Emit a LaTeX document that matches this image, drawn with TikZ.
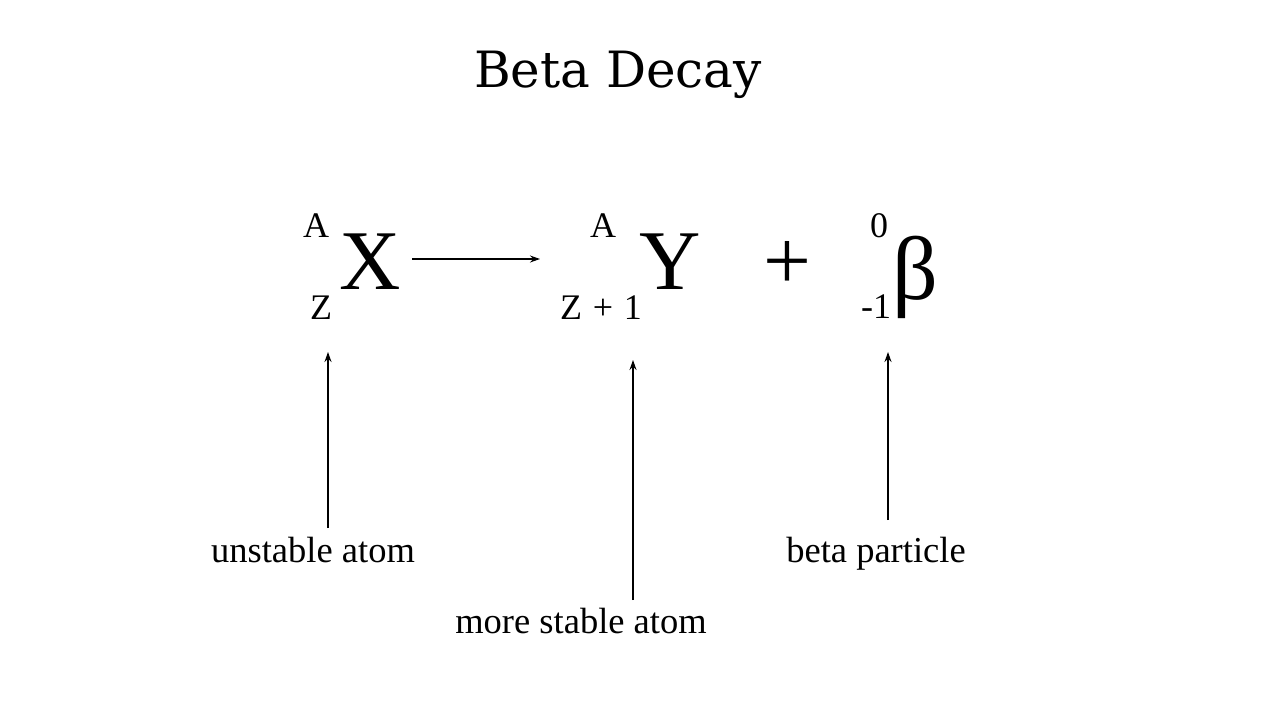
\documentclass[tikz,border=0pt]{standalone}
\usepackage{fontspec}
\setmainfont{Liberation Serif}
\newfontfamily\titlefont{DejaVu Serif}
\usetikzlibrary{arrows.meta}
\tikzset{
  txt/.style={inner sep=0pt, outer sep=0pt, anchor=base},
  big/.style={txt, font=\fontsize{85}{85}\selectfont},
  small/.style={txt, font=\fontsize{36}{36}\selectfont},
  label/.style={txt, font=\fontsize{36.5}{36.5}\selectfont},
  arr/.style={line width=1.3pt, -{Stealth[length=10pt,width=7pt]}}
}
\begin{document}
\begin{tikzpicture}[x=1pt,y=-1pt]
\useasboundingbox[fill=white] (0,0) rectangle (1280,720);
% title
\node[txt, font=\titlefont\fontsize{50}{50}\selectfont] (title) at (618,87) {Beta Decay};
% X
\node[big, anchor=base west] (X) at (339,289) {X};
\node[small] (XA) at (316,237) {A};
\node[small] (XZ) at (321,319) {Z};
% Y
\node[big, anchor=base west] (Y) at (639,289) {Y};
\node[small] (YA) at (603,237) {A};
\node[small] (YZ) at (601,319) {Z\hspace{0.3em}+\hspace{0.3em}1};
% plus
\node[big] (plus) at (787,289) {+};
% beta
\node[big, anchor=base west, font=\fontsize{90}{90}\selectfont] (B) at (892,299) {β};
\node[small] (B0) at (879,237) {0};
\node[small] (Bm) at (876,318) {-1};
% reaction arrow
\coordinate (r1) at (412,259);
\coordinate (r2) at (540,259);
\draw[arr] (r1) -- (r2);
% labels
\node[label] (l1) at (313,562) {unstable atom};
\node[label] (l2) at (581,633) {more stable atom};
\node[label] (l3) at (876,562) {beta particle};
% pointer arrows
\coordinate (p1s) at (328,528);
\coordinate (p1e) at (328,352);
\coordinate (p2s) at (633,600);
\coordinate (p2e) at (633,360);
\coordinate (p3s) at (888,520);
\coordinate (p3e) at (888,352);
\draw[arr] (p1s) -- (p1e);
\draw[arr] (p2s) -- (p2e);
\draw[arr] (p3s) -- (p3e);
\end{tikzpicture}
\end{document}
